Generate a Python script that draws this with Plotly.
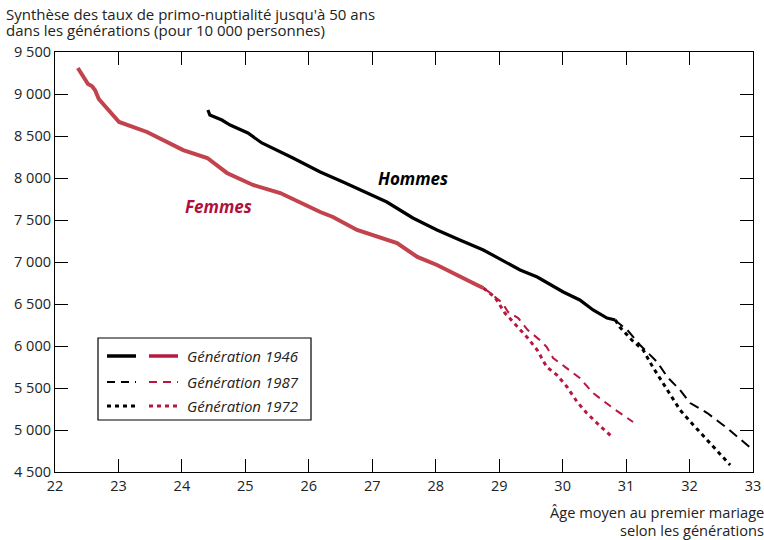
import plotly.graph_objects as go

# ---- data ----
f46_x = [22.36, 22.52, 22.58, 22.63, 22.69, 22.77, 22.90, 23.01, 23.45, 24.02, 24.40, 24.71, 25.12,
         25.55, 26.18, 26.38, 26.76, 27.12, 27.39, 27.71, 28.02, 28.65, 28.75]
f46_y = [9310, 9119, 9095, 9048, 8940, 8869, 8750, 8667, 8548, 8333, 8238, 8060, 7917,
         7821, 7595, 7536, 7381, 7298, 7226, 7060, 6964, 6726, 6690]
f87_x = [28.75, 28.86, 29.05, 29.14, 29.30, 29.45, 29.64, 29.75, 29.85, 30.04, 30.27, 30.48, 30.79, 31.11]
f87_y = [6690, 6631, 6512, 6405, 6333, 6190, 6071, 5988, 5857, 5750, 5619, 5440, 5262, 5095]
f72_x = [28.75, 28.93, 29.09, 29.30, 29.45, 29.60, 29.75, 29.91, 30.07, 30.23, 30.38, 30.54, 30.78]
f72_y = [6690, 6583, 6393, 6226, 6095, 5952, 5750, 5655, 5512, 5333, 5202, 5083, 4917]

h46_x = [24.41, 24.44, 24.63, 24.76, 25.04, 25.26, 25.75, 26.18, 26.54, 26.81, 27.23, 27.64, 28.02,
         28.38, 28.75, 29.33, 29.60, 30.01, 30.27, 30.48, 30.70, 30.83]
h46_y = [8810, 8750, 8690, 8631, 8536, 8417, 8238, 8071, 7952, 7857, 7714, 7524, 7381,
         7262, 7143, 6905, 6821, 6643, 6548, 6429, 6333, 6310]
h87_x = [30.83, 30.86, 31.02, 31.22, 31.49, 31.65, 31.85, 32.01, 32.28, 32.59, 33.00]
h87_y = [6310, 6286, 6190, 6012, 5810, 5631, 5476, 5321, 5202, 5024, 4762]
h72_x = [30.83, 30.90, 31.09, 31.27, 31.42, 31.65, 31.85, 32.06, 32.28, 32.64]
h72_y = [6310, 6226, 6071, 5952, 5750, 5476, 5238, 5060, 4881, 4583]

x_ticks = list(range(22, 34))
y_ticks = [4500, 5000, 5500, 6000, 6500, 7000, 7500, 8000, 8500, 9000, 9500]
y_ticktext = ["4 500", "5 000", "5 500", "6 000", "6 500", "7 000", "7 500", "8 000", "8 500", "9 000", "9 500"]
legend_labels = ["Génération 1946", "Génération 1987", "Génération 1972"]
title_lines = ["Synthèse des taux de primo-nuptialité jusqu'à 50 ans",
               "dans les générations (pour 10 000 personnes)"]
xtitle_lines = ["Âge moyen au premier mariage", "selon les générations"]

RED_SOLID = "#c2434d"
RED = "#b8173f"
BLACK = "#000000"
FONT = "Open Sans"

fig = go.Figure()
def add(x, y, color, width, dash):
    fig.add_trace(go.Scatter(x=x, y=y, mode="lines", showlegend=False, hoverinfo="skip",
                             line=dict(color=color, width=width, dash=dash)))

add(f87_x, f87_y, RED, 2, "8px,6px")
add(f72_x, f72_y, RED, 3, "4px,4px")
add(f46_x, f46_y, RED_SOLID, 4, "solid")
add(h87_x, h87_y, BLACK, 2, "10px,6px")
add(h72_x, h72_y, BLACK, 3, "4px,4px")
add(h46_x, h46_y, BLACK, 3.2, "solid")

fig.add_annotation(x=27.64, y=8000, text="<b><i>Hommes</i></b>", showarrow=False,
                   font=dict(family=FONT, size=17, color="#000000"))
fig.add_annotation(x=24.57, y=7655, text="<b><i>Femmes</i></b>", showarrow=False,
                   font=dict(family=FONT, size=17, color="#b0103e"))

# manual legend (paper coordinates)
W, H = 764, 540
L, R, T, B = 55, 11, 52, 68
pw, ph = W - L - R, H - T - B
def px(xp):
    return (xp - L) / pw
def py(yp):
    return 1 - (yp - T) / ph

fig.add_shape(type="rect", xref="paper", yref="paper", x0=px(98), x1=px(311), y0=py(420), y1=py(338),
              line=dict(color="#000000", width=1.2), fillcolor="white", layer="above")
styles = [("solid", 3.5, 3.5), ("8px,6px", 2, 2), ("4px,4px", 3, 3)]
rows = [356, 382, 406]
for (dash, wb, wr), yy, lab in zip(styles, rows, legend_labels):
    fig.add_shape(type="line", xref="paper", yref="paper", x0=px(107), x1=px(136), y0=py(yy), y1=py(yy),
                  line=dict(color=BLACK, width=wb, dash=dash), layer="above")
    fig.add_shape(type="line", xref="paper", yref="paper", x0=px(149), x1=px(178), y0=py(yy), y1=py(yy),
                  line=dict(color=RED, width=wr, dash=dash), layer="above")
    fig.add_annotation(xref="paper", yref="paper", x=px(185), y=py(yy), xanchor="left", yanchor="middle",
                       text="<i>" + lab + "</i>", showarrow=False,
                       font=dict(family=FONT, size=15, color="#222222"))

for line, yc in zip(title_lines, [14, 30]):
    fig.add_annotation(xref="paper", yref="paper", x=px(4), y=py(yc), xanchor="left", yanchor="middle",
                       showarrow=False, text=line, font=dict(family=FONT, size=15, color="#222222"))
for line, yc in zip(xtitle_lines, [512, 530]):
    fig.add_annotation(xref="paper", yref="paper", x=px(764), y=py(yc), xanchor="right", yanchor="middle",
                       showarrow=False, text=line, font=dict(family=FONT, size=14.6, color="#222222"),
                       xshift=2)

fig.update_layout(
    width=W, height=H, margin=dict(l=L, r=R, t=T, b=B, autoexpand=False),
    plot_bgcolor="white", paper_bgcolor="white",
    font=dict(family=FONT, size=15, color="#222222"),
    showlegend=False,
)
fig.update_xaxes(range=[22, 33], tickvals=x_ticks, ticks="inside", ticklen=13, tickcolor="#000",
                 showgrid=False, zeroline=False, showline=True, linecolor="#000", linewidth=1.2,
                 mirror="ticks", automargin=False, tickfont=dict(family=FONT, size=14.5, color="#222222"))
fig.update_yaxes(range=[4500, 9500], tickvals=y_ticks, ticktext=y_ticktext, ticks="inside", ticklen=13,
                 tickcolor="#000", showgrid=False, zeroline=False, showline=True, linecolor="#000",
                 linewidth=1.2, mirror="ticks", automargin=False,
                 tickfont=dict(family=FONT, size=14.5, color="#222222"))

fig.write_html("out.html", config={"displayModeBar": False},
               post_script="document.body.style.margin='0px';document.body.style.padding='0px';")
